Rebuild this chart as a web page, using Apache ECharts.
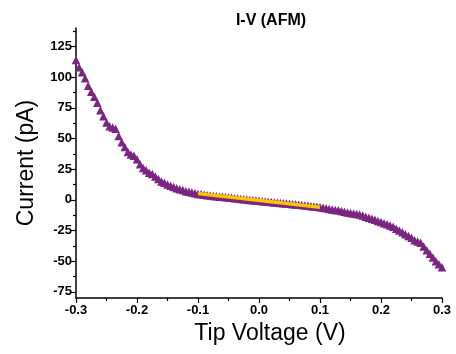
<!DOCTYPE html>
<html><head><meta charset="utf-8">
<script src="https://cdn.jsdelivr.net/npm/echarts@6/dist/echarts.min.js"></script>
<style>html,body{margin:0;padding:0;background:#fff}#c{width:456px;height:354px}</style>
</head><body><div id="c"></div>
<script>
const voltage = [-0.300,-0.295,-0.290,-0.285,-0.280,-0.275,-0.270,-0.265,-0.260,-0.255,-0.250,-0.245,-0.240,-0.235,-0.230,-0.225,-0.220,-0.215,-0.210,-0.205,-0.200,-0.195,-0.190,-0.185,-0.180,-0.175,-0.170,-0.165,-0.160,-0.155,-0.150,-0.145,-0.140,-0.135,-0.130,-0.125,-0.120,-0.115,-0.110,-0.105,-0.100,-0.095,-0.090,-0.085,-0.080,-0.075,-0.070,-0.065,-0.060,-0.055,-0.050,-0.045,-0.040,-0.035,-0.030,-0.025,-0.020,-0.015,-0.010,-0.005,0.000,0.005,0.010,0.015,0.020,0.025,0.030,0.035,0.040,0.045,0.050,0.055,0.060,0.065,0.070,0.075,0.080,0.085,0.090,0.095,0.100,0.105,0.110,0.115,0.120,0.125,0.130,0.135,0.140,0.145,0.150,0.155,0.160,0.165,0.170,0.175,0.180,0.185,0.190,0.195,0.200,0.205,0.210,0.215,0.220,0.225,0.230,0.235,0.240,0.245,0.250,0.255,0.260,0.265,0.270,0.275,0.280,0.285,0.290,0.295,0.300];
const current = [114,108,104,99,93,88,84,79,73,68,63,60,59,58,52,47,43,39,37,36,33,29,26,24,22,21,19,17,15,14,12.5,11.5,10.5,9.5,8.7,8,7,6.5,6,5.3,4.8,4.5,4.1,3.8,3.5,3.2,2.9,2.6,2.4,2.1,1.9,1.6,1.3,1.0,0.7,0.4,0.2,-0.1,-0.3,-0.6,-0.8,-1.1,-1.3,-1.6,-1.8,-2.1,-2.3,-2.6,-2.8,-3.1,-3.3,-3.6,-3.8,-4.1,-4.3,-4.6,-4.9,-5.2,-5.4,-5.7,-6.0,-6.4,-6.9,-7.4,-7.8,-8.2,-8.6,-9.2,-9.8,-10.3,-10.8,-11.2,-11.6,-12,-12.8,-13.8,-14.6,-15.5,-16.3,-17.2,-18,-19,-20,-21,-22,-23.5,-25,-26.5,-28,-29.5,-31,-33,-34,-35,-38,-41,-44,-47,-50,-52.5,-55];
const fitVoltage = [-0.1, 0.1];
const fitCurrent = [5.1, -6.0];
const yTickLabels = [-75,-50,-25,0,25,50,75,100,125];
const yMinorTicks = [-62.5,-37.5,-12.5,12.5,37.5,62.5,87.5,112.5,137.5];

const chart = echarts.init(document.getElementById('c'), null, {renderer:'canvas'});
const font = 'Liberation Sans, Arial, sans-serif';
chart.setOption({
  animation:false,
  title:{text:'I-V (AFM)', left:266, top:8, textAlign:'center',
    textStyle:{fontFamily:font, fontSize:16, fontWeight:'bold', color:'#000'}},
  grid:{left:76, right:14, top:28, bottom:56},
  xAxis:{type:'value', min:-0.3, max:0.3, interval:0.1,
    name:'Tip Voltage (V)', nameLocation:'middle', nameGap:24,
    nameTextStyle:{fontFamily:font, fontSize:23, color:'#000', padding:[0,0,0,22]},
    axisLine:{show:true, onZero:false, lineStyle:{color:'#000', width:1.5}},
    axisTick:{show:true, inside:false, length:5, lineStyle:{color:'#000', width:1.2}},
    minorTick:{show:true, splitNumber:2, length:3, lineStyle:{color:'#000', width:1.2}},
    splitLine:{show:false},
    axisLabel:{fontFamily:font, fontSize:13, fontWeight:'bold', color:'#000', margin:6,
      formatter:v=>(Math.abs(v)<1e-9?'0.0':v.toFixed(1))}},
  yAxis:[{type:'value', min:-80, max:140,
    name:'Current (pA)', nameLocation:'middle', nameGap:38,
    nameTextStyle:{fontFamily:font, fontSize:23, color:'#000'},
    axisLine:{show:true, onZero:false, lineStyle:{color:'#000', width:1.5}},
    axisTick:{show:true, length:5, customValues:yTickLabels, lineStyle:{color:'#000', width:1.2}},
    splitLine:{show:false},
    axisLabel:{customValues:yTickLabels, fontFamily:font, fontSize:13, fontWeight:'bold', color:'#000', margin:4}},
   {type:'value', min:-80, max:140, position:'left', offset:0,
    axisLine:{show:false, onZero:false}, splitLine:{show:false},
    axisTick:{show:true, length:3, customValues:yMinorTicks, lineStyle:{color:'#000', width:1.2}},
    axisLabel:{show:false}}],
  series:[
    {type:'scatter', symbol:'triangle', symbolSize:8.5, itemStyle:{color:'#7b2582', opacity:1},
     data:voltage.map((v,i)=>[v,current[i]])},
    {type:'line', symbol:'none', lineStyle:{color:'#f7c600', width:3.5},
     data:fitVoltage.map((v,i)=>[v,fitCurrent[i]]), z:5}
  ]
});
</script></body></html>
